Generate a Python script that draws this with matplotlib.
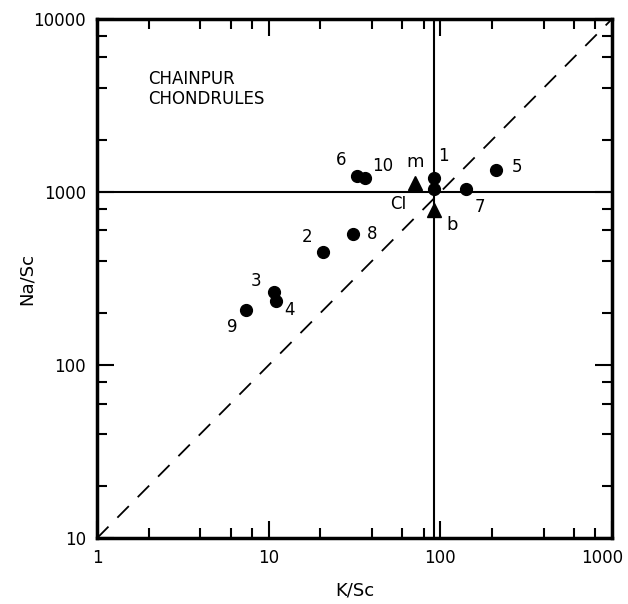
import numpy as np
import matplotlib
matplotlib.use('Agg')
import matplotlib.pyplot as plt
import matplotlib.transforms as mtransforms
from matplotlib.ticker import FixedLocator, NullFormatter

# Condrulas (circulos)
etiquetas = ['1', '2', '3', '4', '5', '6', '7', '8', '9', '10']
k_sc = [92, 20.7, 10.7, 11.1, 212, 32.7, 142, 31, 7.4, 36.4]
na_sc = [1205, 450, 264, 234, 1339, 1237, 1040, 572, 208, 1205]

# Referencias (triangulos) y CI
ref_etiquetas = ['m', 'b']
ref_k_sc = [71.4, 92]
ref_na_sc = [1128, 787]
ci_k, ci_na = 92, 1040

x_ref_line = 92
y_ref_line = 1000

# desplazamientos de etiquetas (pt)
offs = {'1': (7, 16), '2': (-11.5, 11), '3': (-13, 8), '4': (9.5, -6),
        '5': (15, 2), '6': (-11.5, 11.5), '7': (9.5, -13), '8': (13.5, 0),
        '9': (-10, -12), '10': (13, 8.5), 'm': (0, 15), 'b': (13, -11),
        'CI': (-26, -11)}

fig = plt.figure(figsize=(6.28, 6.04), dpi=100)
ax = fig.add_axes([0.1545, 0.109, 0.82, 0.8595])
ax.set_xscale('log')
ax.set_yscale('log')

# linea 1:10 discontinua
xx = np.array([1, 1000])
ax.plot(xx, 10 * xx, color='black', linestyle=(0, (9, 7)), linewidth=1.3)

ax.axhline(y_ref_line, color='black', linewidth=1.5)
ax.axvline(x_ref_line, color='black', linewidth=1.5)

ax.plot(k_sc, na_sc, 'o', color='black', markersize=8.5)
ax.plot(ref_k_sc, ref_na_sc, '^', color='black', markersize=10)
ax.plot([ci_k], [ci_na], 'o', color='black', markersize=8.5)

for lab, x, y in zip(etiquetas, k_sc, na_sc):
    ax.annotate(lab, (x, y), xytext=offs[lab], textcoords='offset points',
                ha='center', va='center', fontsize=12)
for lab, x, y in zip(ref_etiquetas, ref_k_sc, ref_na_sc):
    ax.annotate(lab, (x, y), xytext=offs[lab], textcoords='offset points',
                ha='center', va='center', fontsize=13)
ax.annotate('CI', (ci_k, ci_na), xytext=offs['CI'], textcoords='offset points',
            ha='center', va='center', fontsize=12)

ax.text(0.1, 0.865, 'CHAINPUR\nCHONDRULES', transform=ax.transAxes,
        fontsize=12, va='center', ha='left', linespacing=1.15)

# ejes
mayores = [1, 10, 100, 1000, 10000]
menores = [m * 10**d for d in range(0, 4) for m in (2, 4, 6, 8)]
for axis in (ax.xaxis, ax.yaxis):
    axis.set_major_locator(FixedLocator(mayores))
    axis.set_minor_locator(FixedLocator(menores))
    axis.set_minor_formatter(NullFormatter())
ax.set_xticklabels(['1', '10', '100', '1000', '10000'])
ax.set_yticklabels(['1', '10', '100', '1000', '10000'])
ax.set_xlim(1, 1000)
ax.set_ylim(10, 10000)

ax.tick_params(which='both', direction='in', top=True, right=True,
               labelsize=12, width=1.5)
ax.tick_params(which='major', length=12, pad=8)
ax.tick_params(which='minor', length=7)
for s in ax.spines.values():
    s.set_linewidth(2.5)

# desplazar la etiqueta "1000" un poco a la izquierda
shift = mtransforms.ScaledTranslation(-10 / 100, 0, fig.dpi_scale_trans)
lbl = ax.get_xticklabels()[3]
lbl.set_transform(lbl.get_transform() + shift)

ax.set_xlabel('K/Sc', fontsize=13, labelpad=10)
ax.set_ylabel('Na/Sc', fontsize=13, labelpad=-2)

fig.savefig('out.png', dpi=100)
